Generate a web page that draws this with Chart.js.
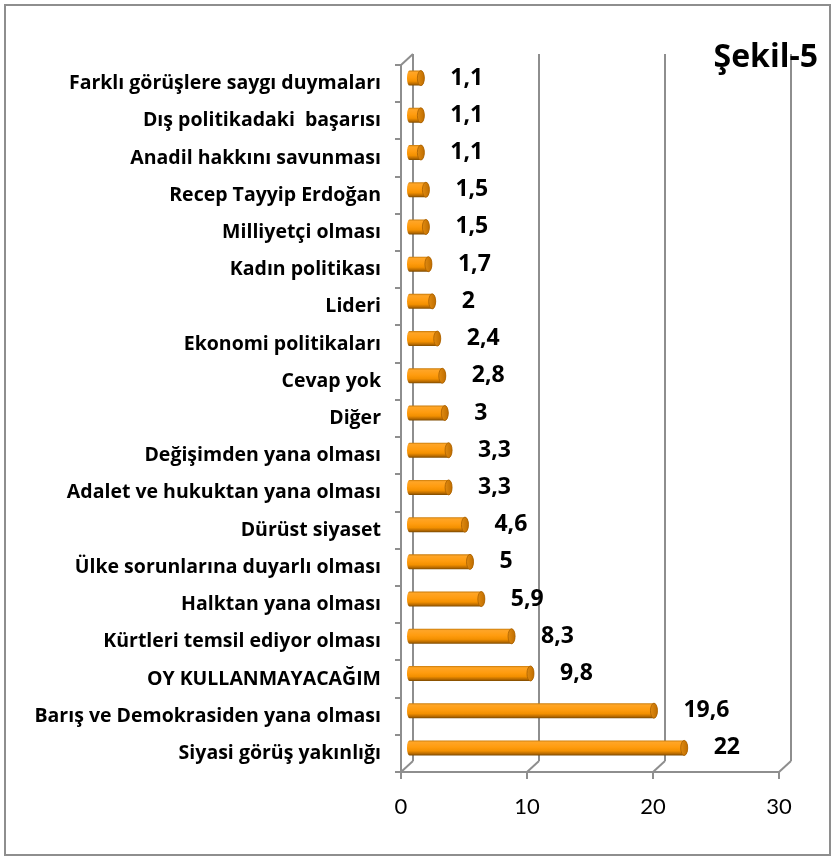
<!DOCTYPE html>
<html><head><meta charset="utf-8">
<script src="https://cdn.jsdelivr.net/npm/chart.js@4.4.0/dist/chart.umd.min.js"></script>
<style>html,body{margin:0;padding:0;background:#fff;} canvas{display:block;}</style>
</head><body>
<canvas id="c" width="835" height="857"></canvas>
<script>
const categories = [
  'Farklı görüşlere saygı duymaları',
  'Dış politikadaki  başarısı',
  'Anadil hakkını savunması',
  'Recep Tayyip Erdoğan',
  'Milliyetçi olması',
  'Kadın politikası',
  'Lideri',
  'Ekonomi politikaları',
  'Cevap yok',
  'Diğer',
  'Değişimden yana olması',
  'Adalet ve hukuktan yana olması',
  'Dürüst siyaset',
  'Ülke sorunlarına duyarlı olması',
  'Halktan yana olması',
  'Kürtleri temsil ediyor olması',
  'OY KULLANMAYACAĞIM',
  'Barış ve Demokrasiden yana olması',
  'Siyasi görüş yakınlığı'
];
const values = [1.1, 1.1, 1.1, 1.5, 1.5, 1.7, 2, 2.4, 2.8, 3, 3.3, 3.3, 4.6, 5, 5.9, 8.3, 9.8, 19.6, 22];
const xTicks = [0, 10, 20, 30];
const chartTitle = 'Şekil-5';

const DX = 12, DY = -11;
const GRID = '#8e8e8e';
const BOLD = '"Open Sans", "Noto Sans", sans-serif';

const frame3d = {
  id: 'frame3d',
  beforeDraw(chart) {
    const ctx = chart.ctx;
    ctx.save();
    ctx.fillStyle = '#fff';
    ctx.fillRect(0, 0, chart.width, chart.height);
    ctx.strokeStyle = GRID; ctx.lineWidth = 2;
    ctx.strokeRect(5, 5, chart.width - 10, chart.height - 7);
    ctx.restore();
  },
  beforeDatasetsDraw(chart) {
    const {ctx, chartArea: a, scales: {x, y}} = chart;
    ctx.save();
    ctx.strokeStyle = GRID; ctx.lineWidth = 2; ctx.lineCap = 'butt';
    const line = (x1, y1, x2, y2) => { ctx.beginPath(); ctx.moveTo(x1, y1); ctx.lineTo(x2, y2); ctx.stroke(); };
    const left = Math.round(a.left), bottom = Math.round(a.bottom), top = Math.round(a.top);
    x.ticks.forEach(t => {
      const px = Math.round(x.getPixelForValue(t.value));
      line(px + DX, top + DY, px + DX, bottom + DY);
      line(px, bottom, px + DX, bottom + DY);
      line(px, bottom, px, bottom + 7);
    });
    line(left, top, left, bottom);
    line(left - 1, bottom, Math.round(x.getPixelForValue(30)) + 1, bottom);
    line(left, top, left + DX, top + DY);
    const half = (y.getPixelForValue(1) - y.getPixelForValue(0)) / 2;
    for (let i = 0; i <= categories.length; i++) {
      const yb = Math.round(y.getPixelForValue(i) - half);
      line(left - 6, yb, left, yb);
    }
    ctx.restore();
  },
  afterDatasetsDraw(chart) {
    const ctx = chart.ctx;
    const meta = chart.getDatasetMeta(0);
    const ox = DX / 2, oy = DY / 2;
    ctx.save();
    meta.data.forEach((el, i) => {
      const p = el.getProps(['x', 'y', 'base', 'height'], true);
      const r = p.height / 2, rx = 3.5;
      const x0 = p.base + ox + 2.5, x1 = p.x + ox, yc = p.y + oy;
      const g = ctx.createLinearGradient(0, yc - r, 0, yc + r);
      g.addColorStop(0, '#c77a0a');
      g.addColorStop(0.12, '#ffa526');
      g.addColorStop(0.45, '#ff9c0f');
      g.addColorStop(0.7, '#f39000');
      g.addColorStop(0.88, '#b96b00');
      g.addColorStop(1, '#7d4a00');
      ctx.fillStyle = g;
      ctx.beginPath();
      ctx.moveTo(x0, yc - r);
      ctx.lineTo(x1, yc - r);
      ctx.ellipse(x1, yc, rx, r, 0, -Math.PI / 2, Math.PI / 2);
      ctx.lineTo(x0, yc + r);
      ctx.ellipse(x0, yc, 2.5, r, 0, Math.PI / 2, Math.PI * 1.5);
      ctx.closePath();
      ctx.fill();
      const cg = ctx.createLinearGradient(x1 - rx, 0, x1 + rx, 0);
      cg.addColorStop(0, '#e08a10');
      cg.addColorStop(1, '#c06e00');
      ctx.fillStyle = cg;
      ctx.beginPath();
      ctx.ellipse(x1, yc, rx, r, 0, 0, Math.PI * 2);
      ctx.fill();
      ctx.strokeStyle = '#a86000'; ctx.lineWidth = 0.8;
      ctx.stroke();
      ctx.fillStyle = '#000';
      ctx.font = 'bold 23px ' + BOLD;
      ctx.textAlign = 'left'; ctx.textBaseline = 'middle';
      ctx.fillText(String(values[i]).replace('.', ','), x1 + rx + 26, yc);
    });
    ctx.restore();
  },
  afterDraw(chart) {
    const ctx = chart.ctx;
    ctx.save();
    ctx.fillStyle = '#000';
    ctx.font = 'bold 32px ' + BOLD;
    ctx.textAlign = 'right'; ctx.textBaseline = 'alphabetic';
    ctx.fillText(chartTitle, 818, 67);
    ctx.restore();
  }
};

new Chart(document.getElementById('c'), {
  type: 'bar',
  data: {
    labels: categories,
    datasets: [{data: values, backgroundColor: 'rgba(0,0,0,0)', borderWidth: 0, barThickness: 15}]
  },
  options: {
    indexAxis: 'y', responsive: false, animation: false, devicePixelRatio: 1,
    layout: {padding: {top: 65, right: 56, bottom: 0, left: 0}},
    plugins: {legend: {display: false}, tooltip: {enabled: false}},
    scales: {
      x: {
        min: 0, max: 30,
        afterBuildTicks(s) { s.ticks = xTicks.map(v => ({value: v})); },
        ticks: {font: {family: 'Lato', size: 22}, color: '#000', padding: 22, maxRotation: 0},
        grid: {display: false, drawTicks: false}, border: {display: false},
        afterFit(s) { s.height = 85; }
      },
      y: {
        ticks: {font: {family: BOLD, size: 19.5, weight: 'bold'}, color: '#000', padding: 20, autoSkip: false},
        grid: {display: false, drawTicks: false}, border: {display: false},
        afterFit(s) { s.width = 401; }
      }
    }
  },
  plugins: [frame3d]
});
</script>
</body></html>
